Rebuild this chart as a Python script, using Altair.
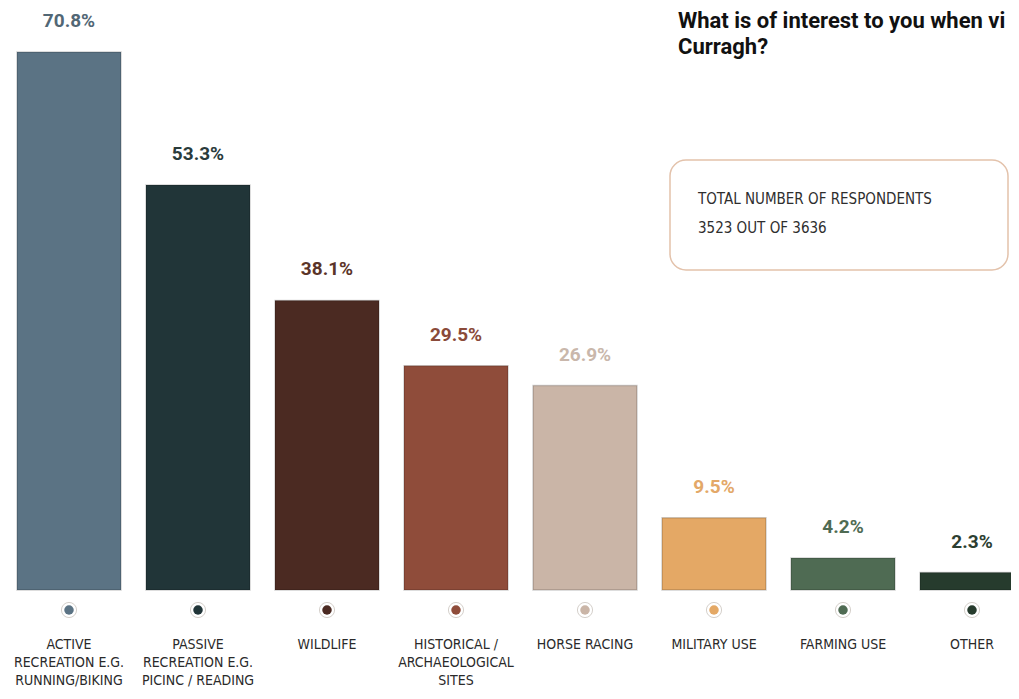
import altair as alt
import pandas as pd

categories = ["Active recreation", "Passive recreation", "Wildlife", "Historical",
              "Horse racing", "Military use", "Farming use", "Other"]
axis_labels = ["ACTIVE\nRECREATION E.G.\nRUNNING/BIKING",
               "PASSIVE\nRECREATION E.G.\nPICINC / READING",
               "WILDLIFE",
               "HISTORICAL /\nARCHAEOLOGICAL\nSITES",
               "HORSE RACING",
               "MILITARY USE",
               "FARMING USE",
               "OTHER"]
values = [70.8, 53.3, 38.1, 29.5, 26.9, 9.5, 4.2, 2.3]
value_labels = ["70.8%", "53.3%", "38.1%", "29.5%", "26.9%", "9.5%", "4.2%", "2.3%"]
bar_colors = ["#5b7384", "#213538", "#4b2a22", "#8f4c3a", "#cab5a7", "#e4a865", "#4f6b53", "#263b2d"]
label_colors = ["#526775", "#2a3b3b", "#5b3428", "#8a4a39", "#c9b7ab", "#e3a868", "#4f6b53", "#2c3e31"]

title_lines = ["What is of interest to you when vi", "Curragh?"]
box_lines = ["TOTAL NUMBER OF RESPONDENTS", "3523 OUT OF 3636"]

df = pd.DataFrame({
    "cat": categories,
    "lab": axis_labels,
    "value": values,
    "vlabel": value_labels,
    "bcol": bar_colors,
    "lcol": label_colors,
})

narrow = "'DejaVu Sans Condensed', 'Liberation Sans Narrow', 'Roboto Condensed', 'Noto Sans'"

x = alt.X("cat:N", sort=categories, axis=None,
          scale=alt.Scale(range=[9, 1016], paddingInner=0.1938, paddingOuter=0))
y_scale = alt.Scale(domain=[0, 80], range=[582, -26])

base = alt.Chart(df)

bars = base.mark_bar(clip=True, stroke="#000000", strokeOpacity=0.18, strokeWidth=1.5).encode(
    x=x,
    y=alt.Y("value:Q", scale=y_scale, axis=None),
    y2=alt.datum(0),
    fill=alt.Fill("bcol:N", scale=None),
)

vals = base.mark_text(font="Roboto", fontWeight="bold", fontSize=19, dy=-31,
                      baseline="middle", clip=True).encode(
    x=x,
    y=alt.Y("value:Q", scale=y_scale, axis=None),
    text="vlabel:N",
    color=alt.Color("lcol:N", scale=None),
)

ring = base.mark_circle(fill="#ffffff", stroke="#d5d0cb", strokeWidth=1, opacity=1,
                        size=230, clip=True).encode(x=x, y=alt.value(602))
dot = base.mark_circle(opacity=1, size=90, clip=True).encode(
    x=x, y=alt.value(602), color=alt.Color("bcol:N", scale=None))

cat_text = base.mark_text(font=narrow, fontSize=14, lineBreak="\n", lineHeight=18,
                          baseline="top", align="center", color="#2a2a2a", clip=True).encode(
    x=x, y=alt.value(630), text="lab:N")

ann = alt.Chart(pd.DataFrame({"a": [0]}))
box = ann.mark_rect(fill="#ffffff", stroke="#e3c2ab", strokeWidth=1.5, cornerRadius=16).encode(
    x=alt.value(662), x2=alt.value(1000), y=alt.value(152), y2=alt.value(262))
box_t1 = ann.mark_text(font=narrow, fontSize=15, align="left", baseline="middle",
                       color="#2e2e2e").encode(x=alt.value(690), y=alt.value(191),
                                               text=alt.value(box_lines[0]))
box_t2 = ann.mark_text(font=narrow, fontSize=15, align="left", baseline="middle",
                       color="#2e2e2e").encode(x=alt.value(690), y=alt.value(220),
                                               text=alt.value(box_lines[1]))
title1 = ann.mark_text(font="Roboto", fontWeight="bold", fontSize=22, align="left",
                       baseline="alphabetic", color="#111111").encode(
    x=alt.value(670), y=alt.value(20), text=alt.value(title_lines[0]))
title2 = ann.mark_text(font="Roboto", fontWeight="bold", fontSize=22, align="left",
                       baseline="alphabetic", color="#111111").encode(
    x=alt.value(670), y=alt.value(46), text=alt.value(title_lines[1]))

chart = alt.layer(bars, vals, ring, dot, cat_text, box, box_t1, box_t2, title1, title2).properties(
    width=1003, height=680, padding=0,
    autosize=alt.AutoSizeParams(type="none"),
    background="#ffffff",
).configure_view(stroke=None)

chart.save("out.html", embed_options={"renderer": "svg", "actions": False})
